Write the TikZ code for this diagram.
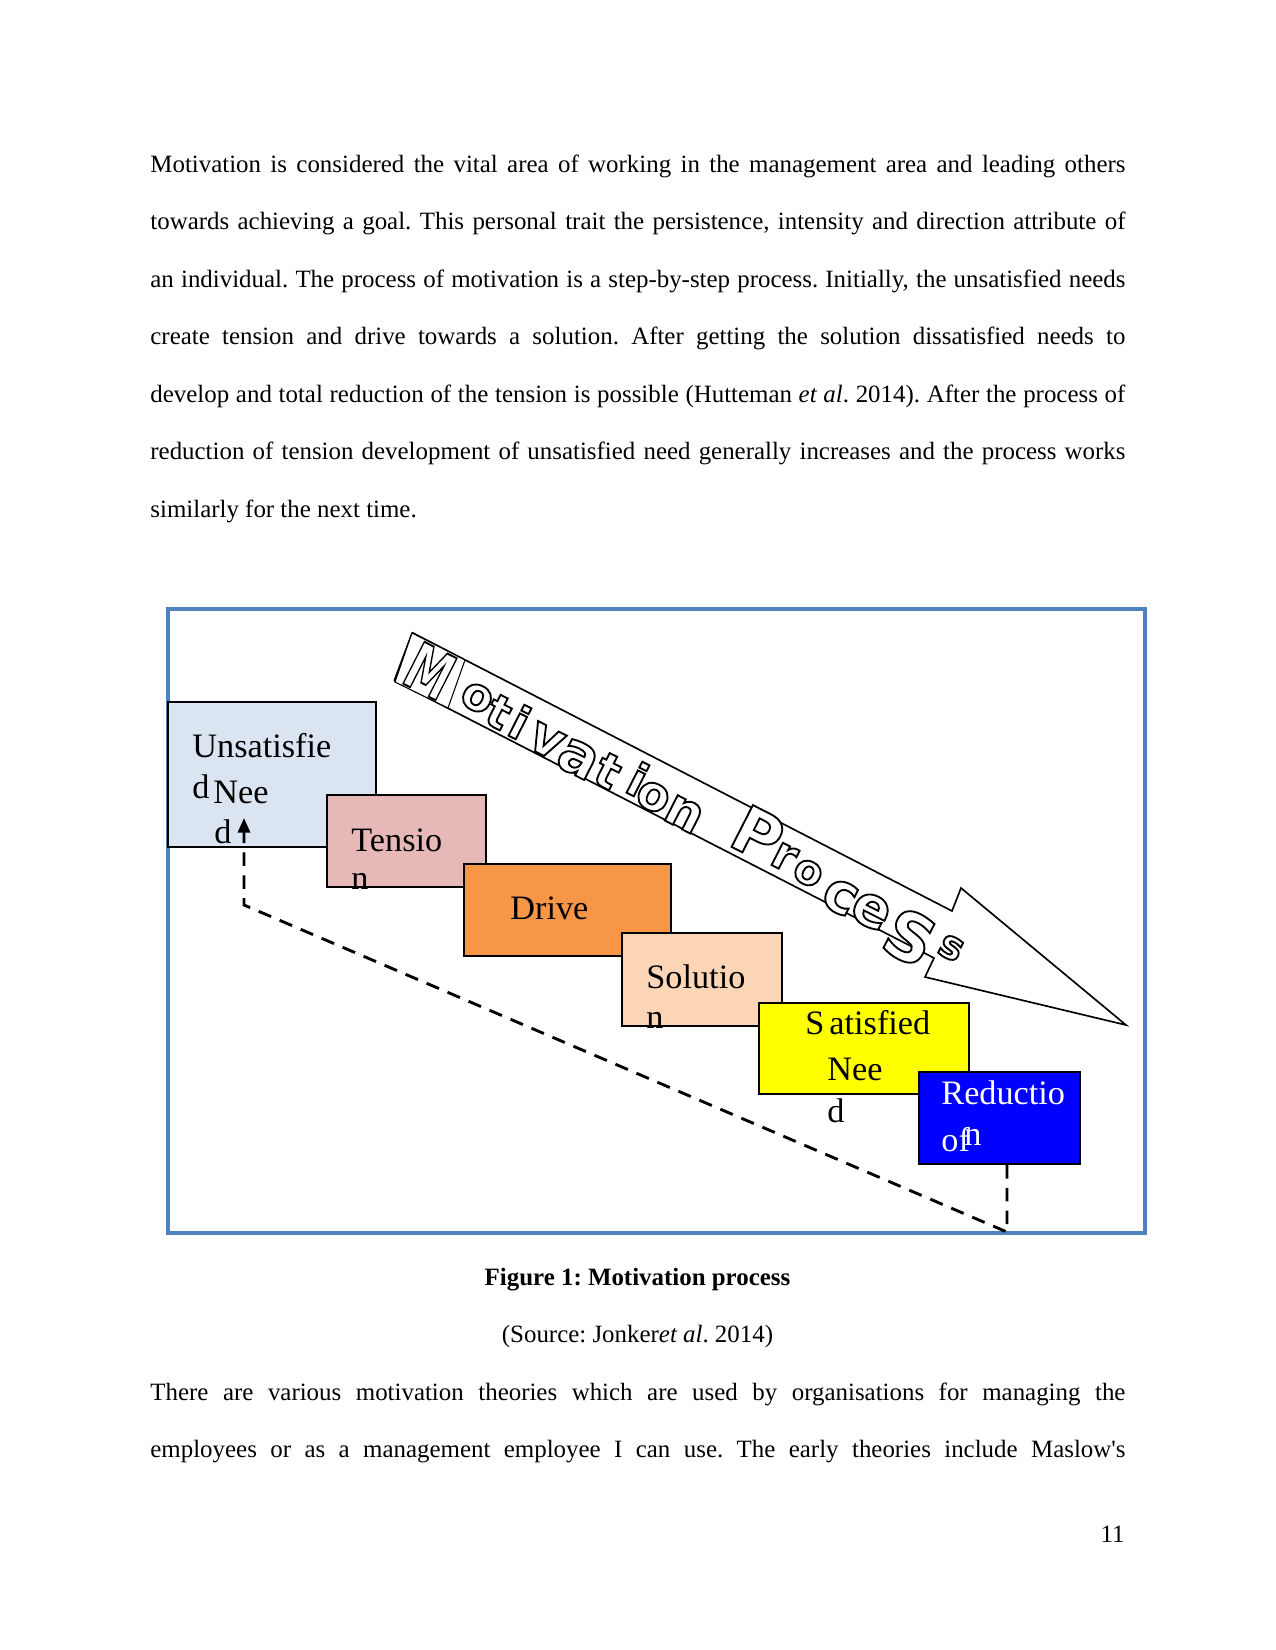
\documentclass[tikz,border=0pt]{standalone}
\usepackage{fontspec}
\setmainfont{Liberation Serif}
\newfontfamily\artfont{DejaVu Sans}
\newfontfamily\quotefont{Liberation Serif}
\usetikzlibrary{arrows.meta}
\frenchspacing

\definecolor{framecol}{HTML}{4F81BD}
\definecolor{needfill}{HTML}{DBE5F1}
\definecolor{tensionfill}{HTML}{E6B9B8}
\definecolor{drivefill}{HTML}{F79646}
\definecolor{solutionfill}{HTML}{FBD5B5}
\definecolor{satisfiedfill}{HTML}{FFFF00}
\definecolor{reducefill}{HTML}{0000FF}

\newdimen\px \px=0.48bp
\newcommand\bodyfont{\fontsize{12}{14}\selectfont}
\newcommand\boxfont{\fontsize{16.5}{20}\selectfont}
% white letters with a black outline
\newcommand\hollow[1]{{\color{white}\special{pdf:literal direct 2 Tr 0.9 w 0 G}#1\special{pdf:literal direct 0 Tr}}}

\tikzset{
  textline/.style={anchor=base west, inner sep=0pt, font=\bodyfont},
  stepbox/.style={draw=black, line width=1pt, inner sep=0pt},
  boxlabel/.style={anchor=base west, inner sep=0pt, font=\boxfont},
  loopline/.style={line width=1.4pt, dash pattern=on 6.5pt off 4.5pt},
}

\begin{document}
\begin{tikzpicture}[x=0.48bp, y=-0.48bp]
  \useasboundingbox[fill=white] (0,0) rectangle (1275,1650);

  % text above the figure
  \node[textline] (p1) at (150,172) {\makebox[6.5in][s]{Motivation is considered the vital area of working in the management area and leading others}};
  \node[textline] (p2) at (150,229.5) {\makebox[6.5in][s]{towards achieving a goal. This personal trait the persistence, intensity and direction attribute of}};
  \node[textline] (p3) at (150,287) {\makebox[6.5in][s]{an individual. The process of motivation is a step-by-step process. Initially, the unsatisfied needs}};
  \node[textline] (p4) at (150,344.5) {\makebox[6.5in][s]{create tension and drive towards a solution. After getting the solution dissatisfied needs to}};
  \node[textline] (p5) at (150,402) {\makebox[6.5in][s]{develop and total reduction of the tension is possible (Hutteman \textit{et al}. 2014). After the process of}};
  \node[textline] (p6) at (150,459.5) {\makebox[6.5in][s]{reduction of tension development of unsatisfied need generally increases and the process works}};
  \node[textline] (p7) at (150,517) {similarly for the next time.};

  % frame
  \draw[framecol, line width=1.5pt] (168,609) rectangle (1145,1233);

  % big arrow
  \draw[line width=0.8pt, fill=white]
    (413,633) -- (952,911) -- (961,888) -- (1126,1025)
    -- (925,977) -- (934,958) -- (395,681) -- cycle;
  \draw[line width=1.6pt] (395,681) -- (413,633);
  \draw[line width=0.5pt, fill=white] (412,633) -- (465,660) -- (448,708) -- (395,682) -- cycle;
  \node[rotate=-27, inner sep=0pt] (artM) at (430,671)
    {\artfont\bfseries\fontsize{31}{31}\selectfont\scalebox{0.7}[1]{\hollow{M}}};
  \foreach \ch/\cx/\cy/\cs [count=\i] in {o/477/698/22, t/499/712/22, i/520/722/22,
      v/546/741/25, a/578/759/28, t/608/771/23, i/638/779/22, o/653/797/23,
      n/684/814/25, P/758/834/31, r/784/857/22, o/808/873/20, c/840/897/27,
      e/871/911/27, S/910/937/32, s/951/948/19}
    \node[rotate=-27, inner sep=0pt] (art\i) at (\cx,\cy)
      {\artfont\bfseries\fontsize{\cs}{\cs}\selectfont\hollow{\ch}};

  % steps
  \node[stepbox, fill=needfill, minimum width=208*\px, minimum height=145*\px] (need) at (272,774.5) {};
  \node[boxlabel] (need1) at (192,757) {Unsatisfie};
  \node[boxlabel] (need2) at (192,798) {d};
  \node[boxlabel] (need3) at (213,803) {Nee};
  \node[boxlabel] (need4) at (214,843) {d};

  \node[stepbox, fill=tensionfill, minimum width=159*\px, minimum height=92*\px] (tension) at (406.5,841) {};
  \node[boxlabel] (tension1) at (351,851) {Tensio};
  \node[boxlabel] (tension2) at (351,889) {n};

  \node[stepbox, fill=drivefill, minimum width=207*\px, minimum height=92*\px] (drive) at (567.5,910) {};
  \node[boxlabel] (drive1) at (510,919) {Drive};

  \node[stepbox, fill=solutionfill, minimum width=160*\px, minimum height=93*\px] (solution) at (702,979.5) {};
  \node[boxlabel] (solution1) at (646,988) {Solutio};
  \node[boxlabel] (solution2) at (646,1028) {n};

  \node[stepbox, fill=satisfiedfill, minimum width=210*\px, minimum height=91*\px] (satisfied) at (864,1048.5) {};
  \node[boxlabel] (satisfied1) at (805,1034) {S\hspace{2.4pt}atisfied};
  \node[boxlabel] (satisfied2) at (827,1080) {Nee};
  \node[boxlabel] (satisfied3) at (827,1122) {d};

  \node[stepbox, fill=reducefill, minimum width=161*\px, minimum height=92*\px] (reduce) at (999.5,1118) {};
  \node[boxlabel, text=white] (reduce1) at (941,1104) {Reductio};
  \node[boxlabel, text=white] (reduce2) at (941,1151) {of};
  \node[boxlabel, text=white] (reduce3) at (964,1145) {n};

  % feedback loop
  \coordinate (loopdown) at (1007,1232);
  \coordinate (loopup) at (244,905);
  \coordinate (needin) at (244,818);
  \draw[loopline, -{Triangle[width=5.8pt,length=7pt]}]
    (reduce.south -| loopdown) -- (loopdown) -- (loopup) -- (needin);

  % caption and text below
  \node[anchor=base, inner sep=0pt, font=\bodyfont\bfseries] (caption) at (637.5,1285) {Figure 1: Motivation process};
  \node[anchor=base, inner sep=0pt, font=\bodyfont] (source) at (637.5,1342) {(Source: Jonker\textit{et al}. 2014)};
  \node[textline] (q1) at (150,1400) {\makebox[6.5in][s]{There are various motivation theories which are used by organisations for managing the}};
  \node[textline] (q2) at (150,1457) {\makebox[6.5in][s]{employees or as a management employee I can use. The early theories include Maslow{\quotefont'}s}};
  \node[anchor=base east, inner sep=0pt, font=\bodyfont] (pageno) at (1125,1542) {11};
\end{tikzpicture}
\end{document}
